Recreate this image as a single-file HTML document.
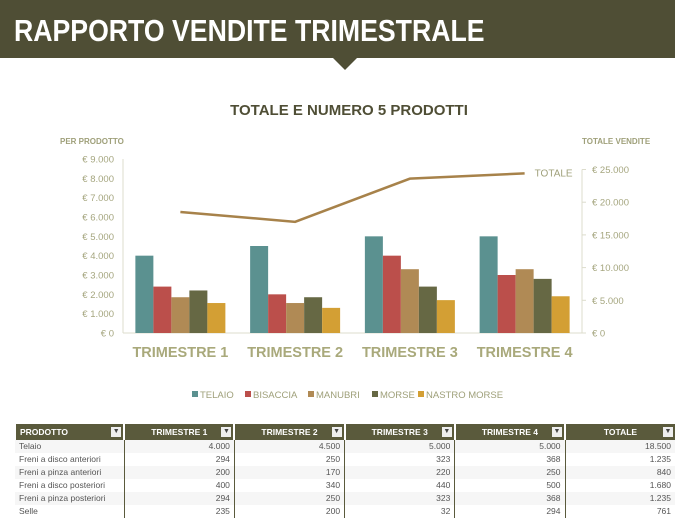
<!DOCTYPE html>
<html><head><meta charset="utf-8"><style>
body{margin:0;width:675px;height:520px;overflow:hidden;background:#fff;font-family:"Liberation Sans",sans-serif;position:relative}
#hdr{position:absolute;left:0;top:0;width:675px;height:58px;background:#4f4e35;color:#fff;font-size:31px;line-height:62px;padding-left:14px;box-sizing:border-box;white-space:nowrap}
#hdr span{display:inline-block;font-weight:bold;transform:scaleX(0.86);transform-origin:left center}
#notch{position:absolute;left:333px;top:58px;width:0;height:0;border-left:12px solid transparent;border-right:12px solid transparent;border-top:12px solid #4f4e35}
table{position:absolute;left:14px;top:424px;border-collapse:collapse;font-size:8.5px;color:#555}
th{background:#5a5a3c;color:#fff;height:16px;padding:0 4px;font-weight:bold;border-left:2px solid #fff;position:relative;text-align:center;box-sizing:border-box}
th:first-child{text-align:left}
th span{position:absolute;right:2px;top:3px;width:10px;height:10px;background:#eee;color:#444;font-size:7px;line-height:10px;text-align:center}
td{height:13px;line-height:13px;padding:0 4px;text-align:right;border-left:1px solid #5a5a3c}
td:first-child{text-align:left;border-left:none}
tr:nth-child(even) td{background:#f6f6f6}
</style></head><body>
<div id="hdr"><span>RAPPORTO VENDITE TRIMESTRALE</span></div>
<div id="notch"></div>
<svg id="chart" width="675" height="420" style="position:absolute;left:0;top:0"></svg>
<table>
<tr><th style="width:110px">PRODOTTO<span>▼</span></th><th style="width:111px">TRIMESTRE 1<span>▼</span></th><th style="width:111px">TRIMESTRE 2<span>▼</span></th><th style="width:111px">TRIMESTRE 3<span>▼</span></th><th style="width:111px">TRIMESTRE 4<span>▼</span></th><th style="width:111px">TOTALE<span>▼</span></th></tr>
<tr><td>Telaio</td><td>4.000</td><td>4.500</td><td>5.000</td><td>5.000</td><td>18.500</td></tr>
<tr><td>Freni a disco anteriori</td><td>294</td><td>250</td><td>323</td><td>368</td><td>1.235</td></tr>
<tr><td>Freni a pinza anteriori</td><td>200</td><td>170</td><td>220</td><td>250</td><td>840</td></tr>
<tr><td>Freni a disco posteriori</td><td>400</td><td>340</td><td>440</td><td>500</td><td>1.680</td></tr>
<tr><td>Freni a pinza posteriori</td><td>294</td><td>250</td><td>323</td><td>368</td><td>1.235</td></tr>
<tr><td>Selle</td><td>235</td><td>200</td><td>32</td><td>294</td><td>761</td></tr>
</table>
<script>
const categories=["TRIMESTRE 1","TRIMESTRE 2","TRIMESTRE 3","TRIMESTRE 4"];
const seriesNames=["TELAIO","BISACCIA","MANUBRI","MORSE","NASTRO MORSE"];
const telaio=[4000,4500,5000,5000];
const bisaccia=[2400,2000,4000,3000];
const manubri=[1850,1550,3300,3300];
const morse=[2200,1850,2400,2800];
const nastro=[1550,1300,1700,1900];
const totale=[18500,17000,23600,24400];
const leftTicks=[0,1000,2000,3000,4000,5000,6000,7000,8000,9000];
const rightTicks=[0,5000,10000,15000,20000,25000];
const colors=["#5b9190","#bb4f4b","#b08a55","#666844","#d39f34"];
const series=[telaio,bisaccia,manubri,morse,nastro];
const svg=document.getElementById('chart');const NS="http://www.w3.org/2000/svg";
const X0=123,X1=582,Y0=333;
const yL=v=>Y0-v/9000*174, yR=v=>Y0-v/25000*163.5;
const gw=(X1-X0)/categories.length, gx=i=>X0+gw*(i+0.5);
const fmt=v=>v.toLocaleString('de-DE');
function el(t,a,txt){const e=document.createElementNS(NS,t);for(const k in a)e.setAttribute(k,a[k]);if(txt!=null)e.textContent=txt;svg.appendChild(e);return e;}
let e;
e=el('text',{x:349,y:115,'text-anchor':'middle','font-size':15,fill:'#4f4e35','font-weight':'bold'},'TOTALE E NUMERO 5 PRODOTTI');


e=el('text',{x:60,y:144,'font-size':8,fill:'#9fa07a','font-weight':'bold'},'PER PRODOTTO');


e=el('text',{x:582,y:144,'font-size':8,fill:'#9fa07a','font-weight':'bold'},'TOTALE VENDITE');


el('line',{x1:X0,y1:yL(9000),x2:X0,y2:Y0,stroke:'#dcdccc'});
el('line',{x1:X1,y1:yR(25000),x2:X1,y2:Y0,stroke:'#dcdccc'});
el('line',{x1:X0,y1:Y0,x2:X1,y2:Y0,stroke:'#dcdccc'});
leftTicks.forEach(v=>{e=el('text',{x:114,y:yL(v)+3.5,'text-anchor':'end','font-size':9.5,fill:'#a5a67f'},'€ '+fmt(v));

});
rightTicks.forEach(v=>{el('line',{x1:X1,y1:yR(v),x2:X1+4,y2:yR(v),stroke:'#dcdccc'});
e=el('text',{x:592,y:yR(v)+3.5,'font-size':9.5,fill:'#a5a67f'},'€ '+fmt(v));

});
const bw=18;
categories.forEach((c,i)=>{
 series.forEach((s,j)=>{const x=gx(i)-bw*2.5+j*bw;
  e=el('rect',{x:x,y:yL(s[i]),width:bw,height:Y0-yL(s[i]),fill:colors[j]});
  
  });
 e=el('text',{x:gx(i),y:357,'text-anchor':'middle','font-size':14.5,fill:'#a9a97b','font-weight':'bold'},c);
 
 
});
e=el('polyline',{points:totale.map((v,i)=>gx(i)+','+yR(v)).join(' '),fill:'none',stroke:'#a7824a','stroke-width':2.5});


e=el('text',{x:gx(3)+10,y:yR(totale[3])+3,'font-size':10,fill:'#9fa07a'},'TOTALE');


const lx=[192,245,308,372,418];
seriesNames.forEach((n,j)=>{
 e=el('rect',{x:lx[j],y:391,width:6,height:6,fill:colors[j]});
 
 
 e=el('text',{x:lx[j]+8,y:398,'font-size':9.5,fill:'#9fa07a'},n);
 
 
});
</script>
</body></html>
